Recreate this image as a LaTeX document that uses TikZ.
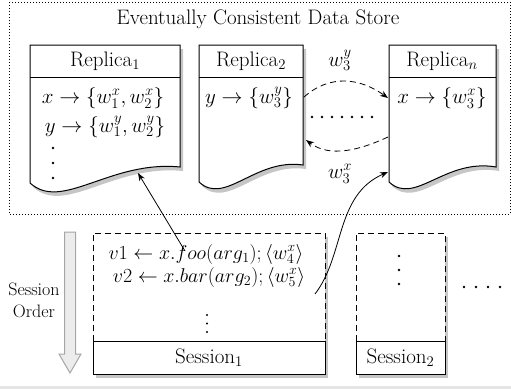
\RequirePackage{fix-cm}
\documentclass[tikz,border=0pt]{standalone}
\usetikzlibrary{shadows,arrows.meta}
\begin{document}
\begin{tikzpicture}[x=1pt,y=-1pt,
  font=\fontsize{21}{25}\selectfont,
  every node/.style={inner sep=1pt},
  shad/.style={drop shadow={opacity=0.45,shadow xshift=3pt,shadow yshift=-4pt}},
  boxline/.style={draw=black,line width=1pt},
  dotmark/.style={fill=black},
  optext/.style={font=\fontsize{20}{24}\selectfont},
  conn/.style={line width=0.8pt,-{Stealth[length=8pt,width=6pt]}},
  sync/.style={line width=0.8pt,dash pattern=on 6pt off 4pt,-{Stealth[length=8pt,width=6pt]}}]
\useasboundingbox (0,0) rectangle (511,389);
\fill[gray!20] (0,386) rectangle (511,389);
% outer store
\draw[line width=1pt,dotted] (9,2) rectangle (510,214);
\node (title) at (258,19) {Eventually Consistent Data Store};
% replica 1
\path[boxline,fill=white,shad] (30,45) -- (180,45) -- (180,167)
  .. controls (110,160) and (62,212) .. (30,183) -- cycle;
\draw[boxline] (30,77) -- (180,77);
\node (h1) at (105,61) {Replica$_1$};
\node (x1) at (103,98) {$x \to \{w_1^x, w_2^x\}$};
\node (y1) at (105,127) {$y \to \{w_1^y, w_2^y\}$};
\foreach \yy in {148,163,178} \fill[dotmark] (53,\yy) circle (1.4pt);
% replica 2
\path[boxline,fill=white,shad] (199,45) -- (303,45) -- (303,165)
  .. controls (255,158) and (225,206) .. (199,182) -- cycle;
\draw[boxline] (199,77) -- (303,77);
\node (h2) at (251,61) {Replica$_2$};
\node (y2) at (249,98) {$y \to \{w_3^y\}$};
% replica n
\path[boxline,fill=white,shad] (389,45) -- (496,45) -- (496,167)
  .. controls (445,158) and (415,206) .. (389,182) -- cycle;
\draw[boxline] (389,77) -- (496,77);
\node (hn) at (442,61) {Replica$_n$};
\node (xn) at (442,98) {$x \to \{w_3^x\}$};
% sync arrows
\coordinate (r2a) at (304,97);
\coordinate (rna) at (388,98);
\coordinate (rnb) at (388,137);
\coordinate (r2b) at (306,140);
\draw[sync] (r2a) .. controls (330,74) and (360,78) .. (rna);
\draw[sync] (rnb) .. controls (360,150) and (330,158) .. (r2b);
\node (wy) at (340,60) {$w_3^y$};
\node (wx) at (340,174) {$w_3^x$};
\foreach \xx in {312,322,...,372} \fill[dotmark] (\xx,117) circle (1.4pt);
% session order arrow
\path[fill=gray!15,draw=gray!70,line width=1pt]
  (64.5,232) -- (75.5,232) -- (75.5,354) -- (81,354) -- (70,373)
  -- (59,354) -- (64.5,354) -- cycle;
\node[align=center,font=\fontsize{18}{22}\selectfont] (so) at (34,300) {Session\\Order};
% session 1
\path[fill=white,shad] (93,233) rectangle (325,374);
\draw[line width=1pt,dash pattern=on 6pt off 4pt] (93,341) -- (93,233) -- (325,233) -- (325,341);
\node[boxline,minimum width=232pt,minimum height=33pt,inner sep=0pt] (s1) at (209,357.5) {Session$_1$};
\node[optext] (v1) at (206,254) {$v1 \leftarrow x.foo(arg_1); \langle w_4^x\rangle$};
\node[optext] (v2) at (209,277) {$v2 \leftarrow x.bar(arg_2); \langle w_5^x\rangle$};
\foreach \yy in {315,323.5,332} \fill[dotmark] (207,\yy) circle (1.1pt);
% session 2
\path[fill=white,shad] (356,233) rectangle (445,374);
\draw[line width=1pt,dash pattern=on 6pt off 4pt] (356,341) -- (356,233) -- (445,233) -- (445,341);
\node[boxline,minimum width=89pt,minimum height=33pt,inner sep=0pt] (s2) at (400.5,357.5) {Session$_2$};
\foreach \yy in {256,270,284} \fill[dotmark] (399,\yy) circle (1.4pt);
\foreach \xx in {464,476,488,500} \fill[dotmark] (\xx,287) circle (1.4pt);
% operation connectors
\coordinate (op1) at (185,251);
\coordinate (rep1) at (138,173);
\coordinate (op2) at (315,294);
\coordinate (repn) at (388,172);
\draw[conn] (op1) -- (rep1);
\draw[conn] (op2) .. controls (345,255) and (335,195) .. (repn);
\end{tikzpicture}
\end{document}
